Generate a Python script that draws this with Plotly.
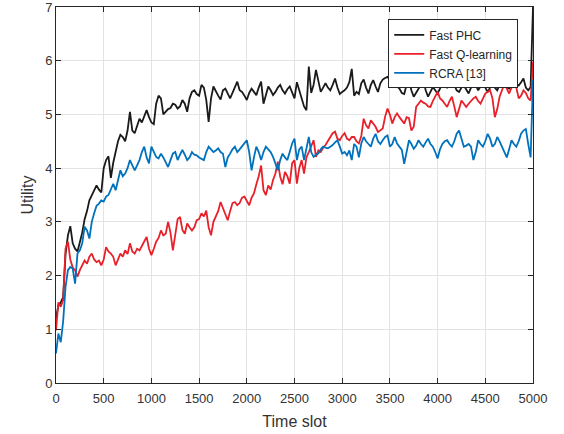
import plotly.graph_objects as go

time_slot = list(range(0, 5001, 25))

fast_phc = [
1.2,1.45,1.5,1.6,2.4,2.75,2.92,2.6,2.5,2.45,2.62,2.8,3.05,3.2,3.4,3.5,3.6,3.68,3.6,3.55,
4.0,4.15,4.22,3.82,4.1,4.33,4.5,4.62,4.58,4.5,4.7,5.05,4.7,4.65,4.8,4.92,4.85,4.95,5.08,4.95,
4.85,4.82,5.2,5.35,5.3,5.0,5.05,5.1,5.12,5.2,5.18,5.11,5.15,5.27,5.2,5.05,5.3,5.42,5.45,5.38,
5.35,5.55,5.5,5.27,4.86,5.3,5.52,5.42,5.35,5.28,5.45,5.48,5.38,5.3,5.4,5.5,5.61,5.45,5.42,5.35,
5.27,5.4,5.48,5.42,5.36,5.5,5.61,5.2,5.35,5.52,5.45,5.36,5.42,5.5,5.55,5.45,5.39,5.47,5.52,5.42,
5.3,5.6,5.45,5.3,5.15,5.08,5.89,5.4,5.55,5.83,5.6,5.42,5.5,5.58,5.5,5.45,5.55,5.67,5.5,5.38,
5.42,5.45,5.5,5.6,5.85,5.35,5.42,5.38,5.58,5.65,5.5,5.39,5.55,5.64,5.52,5.42,5.58,5.65,5.68,5.7,
5.65,5.6,5.55,5.52,5.48,5.4,5.38,5.55,5.64,5.45,5.33,5.42,5.48,5.55,5.64,5.45,5.33,5.42,5.51,5.45,
5.39,5.48,5.57,5.52,5.5,5.55,5.6,5.55,5.45,5.42,5.5,5.54,5.45,5.39,5.5,5.64,5.55,5.45,5.52,5.6,
5.5,5.42,5.5,5.57,5.5,5.45,5.55,5.6,5.64,5.5,5.48,5.55,5.6,5.57,5.54,5.6,5.67,5.5,5.45,5.51,
7.0]

fast_q = [
0.98,1.5,1.42,1.55,2.5,2.63,2.3,2.15,2.1,1.98,2.1,2.2,2.28,2.22,2.35,2.41,2.3,2.25,2.28,2.19,
2.3,2.53,2.45,2.41,2.35,2.19,2.3,2.41,2.35,2.47,2.4,2.6,2.45,2.41,2.5,2.47,2.55,2.65,2.72,2.5,
2.38,2.5,2.63,2.7,2.84,2.75,2.78,3.0,2.8,2.47,2.8,3.05,3.09,2.85,2.78,2.97,2.9,2.84,2.9,3.03,
3.05,3.16,3.1,3.21,2.9,2.75,3.0,3.09,3.2,3.37,3.25,3.16,3.03,3.2,3.35,3.37,3.31,3.35,3.45,3.47,
3.4,3.31,3.45,3.53,3.7,3.85,4.05,3.59,3.5,3.68,3.6,3.78,3.9,4.12,3.84,3.7,3.93,3.85,3.71,4.09,
4.15,3.71,4.0,4.15,3.9,4.2,4.3,4.4,4.52,4.21,4.33,4.3,4.38,4.43,4.5,4.58,4.65,4.68,4.55,4.52,
4.6,4.65,4.55,4.52,4.58,4.58,4.5,4.46,4.6,4.92,4.8,4.74,4.89,4.83,4.77,4.67,4.71,4.74,4.96,5.11,
5.0,4.83,4.95,5.02,4.95,4.89,4.83,4.95,4.93,4.7,4.77,5.14,5.2,5.26,5.22,5.2,5.15,5.14,5.25,5.35,
5.42,5.3,5.26,5.2,5.14,5.25,5.33,5.15,4.95,5.1,5.26,5.2,5.14,5.2,5.26,5.3,5.33,5.25,5.2,5.3,
5.39,5.42,5.45,5.3,4.95,5.1,5.33,5.45,5.57,5.48,5.39,5.5,5.64,5.5,5.3,5.35,5.45,5.4,5.3,5.26,
5.98]

rcra = [
0.55,0.92,0.76,1.15,1.79,2.1,2.16,2.13,1.85,2.41,2.47,2.6,2.91,2.84,2.69,3.0,3.16,3.3,3.34,3.4,
3.38,3.47,3.5,3.6,3.71,3.59,3.75,3.96,3.85,3.9,4.0,4.15,4.05,3.96,4.05,4.15,4.3,4.4,4.2,4.09,
4.4,4.3,4.21,4.18,4.27,4.2,4.1,4.02,4.15,4.27,4.3,4.15,4.25,4.34,4.25,4.15,4.2,4.3,4.25,4.24,
4.2,4.18,4.15,4.3,4.4,4.35,4.3,4.33,4.37,4.3,4.27,4.02,4.2,4.27,4.35,4.4,4.3,4.35,4.4,4.46,
4.52,4.3,3.96,4.2,4.4,4.3,4.15,4.3,4.4,4.35,4.3,4.21,4.1,3.96,4.15,4.27,4.2,4.15,4.3,4.46,
4.55,4.15,4.35,4.4,4.15,4.4,4.58,4.3,4.21,4.25,4.27,4.35,4.4,4.38,4.37,4.4,4.43,4.48,4.52,4.4,
4.27,4.3,4.24,4.33,4.15,4.45,4.4,4.2,4.46,4.58,4.5,4.45,4.4,4.55,4.64,4.5,4.45,4.52,4.58,4.61,
4.4,4.45,4.58,4.46,4.4,4.34,4.08,4.3,4.52,4.45,4.36,4.42,4.52,4.45,4.4,4.48,4.55,4.45,4.4,4.3,
4.18,4.35,4.45,4.5,4.52,4.45,4.4,4.5,4.64,4.7,4.55,4.4,4.42,4.45,4.4,4.15,4.3,4.52,4.45,4.4,
4.5,4.64,4.55,4.4,4.45,4.58,4.5,4.4,4.33,4.2,4.35,4.52,4.45,4.4,4.5,4.64,4.7,4.73,4.45,4.2,
5.65]

series_names = ["Fast PHC", "Fast Q-learning", "RCRA [13]"]
series_colors = ["#1a1a1a", "#e8202a", "#0072bd"]
x_ticks = [0, 500, 1000, 1500, 2000, 2500, 3000, 3500, 4000, 4500, 5000]
y_ticks = [0, 1, 2, 3, 4, 5, 6, 7]

fig = go.Figure()
for name, vals, col in zip(series_names, [fast_phc, fast_q, rcra], series_colors):
    fig.add_trace(go.Scatter(x=time_slot, y=vals, mode="lines", name=name,
                             line=dict(color=col, width=1.8)))

font_fam = "Liberation Sans, Arial"
axis_common = dict(showgrid=True, gridcolor="#e3e3e3", gridwidth=1,
                   showline=True, linecolor="#262626", linewidth=1, mirror="ticks",
                   ticks="inside", ticklen=5, tickcolor="#262626",
                   tickfont=dict(family=font_fam, size=13, color="#333333"),
                   ticklabeloverflow="allow",
                   zeroline=False, automargin=False)

fig.update_xaxes(range=[0, 5000], tickvals=x_ticks, ticktext=[str(v) for v in x_ticks],
                 ticklabelstandoff=3,
                 title=dict(text="Time slot", font=dict(family=font_fam, size=16, color="#333333"), standoff=11),
                 **axis_common)
fig.update_yaxes(range=[0, 7.0005], tickvals=y_ticks, ticktext=[str(v) for v in y_ticks],
                 title=dict(text="Utility", font=dict(family=font_fam, size=16, color="#333333"), standoff=7),
                 **axis_common)

fig.update_layout(
    width=564, height=434,
    margin=dict(l=56, r=31, t=7, b=51),
    plot_bgcolor="white", paper_bgcolor="white",
    legend=dict(x=0.969, y=0.967, xanchor="right", yanchor="top",
                bgcolor="white", bordercolor="#262626", borderwidth=1,
                font=dict(family=font_fam, size=12, color="#262626"),
                tracegroupgap=0, itemwidth=30),
    showlegend=True,
)

fig.write_html("out.html", config={"displayModeBar": False},
               post_script="document.body.style.margin='0';")
